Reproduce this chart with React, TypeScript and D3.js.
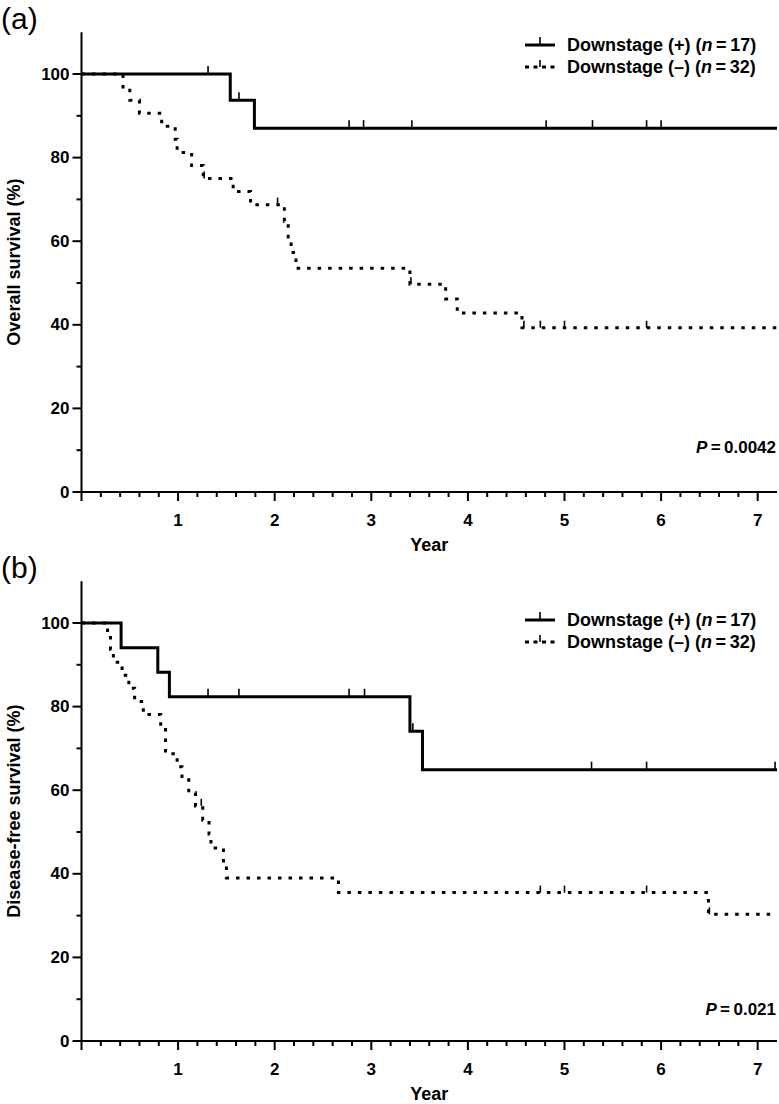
import React from "react";
import * as d3 from "d3";

// ---------- data ----------
const yearTicks = [1, 2, 3, 4, 5, 6, 7];
const survivalTicks = [0, 20, 40, 60, 80, 100];
const survivalMinorTicks = [10, 30, 50, 70, 90];

// (a) Overall survival
const osPlusTimes = [1.54, 1.79];
const osPlusValues = [93.75, 87.05];
const osPlusCensor = [1.31, 1.63, 2.77, 2.92, 3.42, 4.81, 5.29, 5.85, 6.0];

const osMinusTimes = [0.43, 0.5, 0.6, 0.83, 0.97, 0.99, 1.14, 1.26, 1.57, 1.75, 2.1, 2.14, 2.17, 2.22, 3.4, 3.77, 3.89, 4.56];
const osMinusValues = [96.9, 93.75, 90.6, 87.5, 84.4, 81.25, 78.1, 75.0, 71.9, 68.75, 64.8, 61.0, 57.3, 53.5, 49.7, 46.2, 42.8, 39.3];
const osMinusCensor = [1.27, 2.03, 3.41, 4.58, 4.75, 5.0, 5.85];

// (b) Disease-free survival
const dfsPlusTimes = [0.41, 0.79, 0.91, 3.4, 3.53];
const dfsPlusValues = [94.1, 88.2, 82.35, 74.1, 64.9];
const dfsPlusCensor = [1.31, 1.63, 2.77, 2.93, 3.43, 5.28, 5.85, 7.18];

const dfsMinusTimes = [0.27, 0.3, 0.33, 0.42, 0.49, 0.55, 0.64, 0.82, 0.87, 0.99, 1.04, 1.11, 1.18, 1.255, 1.32, 1.34, 1.47, 1.5, 2.66, 6.49];
const dfsMinusValues = [96.9, 93.75, 90.6, 87.5, 84.4, 81.25, 78.1, 75.0, 68.75, 65.6, 62.5, 59.4, 56.25, 52.9, 49.5, 46.2, 42.6, 39.0, 35.5, 30.3];
const dfsMinusCensor = [1.24, 4.75, 5.0, 5.85, 6.5];

const legendPlus = "Downstage (+)";
const legendMinus = "Downstage (–)";
const nPlus = "17";
const nMinus = "32";

const FONT = "'Liberation Sans', Arial, Helvetica, sans-serif";
const X_MAX = 7.2;
const Y_MAX = 110;

type Series = { times: number[]; values: number[]; censor: number[] };

function stepPoints(s: Series): [number, number][] {
  const pts: [number, number][] = [[0, 100]];
  s.times.forEach((t, i) => pts.push([t, s.values[i]]));
  pts.push([X_MAX, s.values[s.values.length - 1]]);
  return pts;
}

function valueAt(s: Series, t: number): number {
  let v = 100;
  s.times.forEach((tt, i) => {
    if (tt <= t) v = s.values[i];
  });
  return v;
}

type PanelProps = {
  top: number;
  tag: string;
  yLabel: string;
  plus: Series;
  minus: Series;
  pText: string;
  legendY: number;
  pY: number;
};

function Panel({ top, tag, yLabel, plus, minus, pText, legendY, pY }: PanelProps) {
  const x = d3.scaleLinear().domain([0, X_MAX]).range([81.5, 777]);
  const y = d3.scaleLinear().domain([0, Y_MAX]).range([top + 492, top + 492 - 4.18 * Y_MAX]);
  const line = d3
    .line<[number, number]>()
    .x((d) => x(d[0]))
    .y((d) => y(d[1]))
    .curve(d3.curveStepAfter);

  const minorX = d3.range(0, 36).map((i) => i * 0.2).filter((v) => Math.abs(v - Math.round(v)) > 1e-6);
  const y0 = y(0);

  return (
    <g>
      <text x={1} y={top + 29} fontFamily={FONT} fontSize={30}>
        {tag}
      </text>
      {/* y axis */}
      <line x1={x(0)} x2={x(0)} y1={y(Y_MAX)} y2={y0 + 9} stroke="#000" strokeWidth={2} />
      {survivalTicks.map((v) => (
        <g key={"yt" + v}>
          <line x1={x(0) - 9} x2={x(0)} y1={y(v)} y2={y(v)} stroke="#000" strokeWidth={2} />
          <text
            x={x(0) - 12}
            y={y(v)}
            textAnchor="end"
            dominantBaseline="central"
            fontFamily={FONT}
            fontWeight="bold"
            fontSize={17}
          >
            {v}
          </text>
        </g>
      ))}
      {survivalMinorTicks.map((v) => (
        <line key={"ym" + v} x1={x(0) - 5} x2={x(0)} y1={y(v)} y2={y(v)} stroke="#000" strokeWidth={2} />
      ))}
      <text
        transform={`translate(14,${(y(Y_MAX) + y0) / 2}) rotate(-90)`}
        textAnchor="middle"
        dominantBaseline="central"
        fontFamily={FONT}
        fontWeight="bold"
        fontSize={18}
      >
        {yLabel}
      </text>
      {/* x axis */}
      <line x1={x(0)} x2={x(X_MAX)} y1={y0} y2={y0} stroke="#000" strokeWidth={2} />
      {yearTicks.map((v) => (
        <g key={"xt" + v}>
          <line x1={x(v)} x2={x(v)} y1={y0} y2={y0 + 9} stroke="#000" strokeWidth={2} />
          <text
            x={x(v)}
            y={y0 + 28}
            textAnchor="middle"
            dominantBaseline="central"
            fontFamily={FONT}
            fontWeight="bold"
            fontSize={17}
          >
            {v}
          </text>
        </g>
      ))}
      {minorX.map((v) => (
        <line key={"xm" + v} x1={x(v)} x2={x(v)} y1={y0} y2={y0 + 5} stroke="#000" strokeWidth={2} />
      ))}
      <text
        x={(x(0) + x(X_MAX)) / 2}
        y={y0 + 53}
        textAnchor="middle"
        dominantBaseline="central"
        fontFamily={FONT}
        fontWeight="bold"
        fontSize={18}
      >
        Year
      </text>
      {/* curves */}
      <path d={line(stepPoints(minus)) || ""} fill="none" stroke="#000" strokeWidth={3} strokeDasharray="3.5 7" />
      <path d={line(stepPoints(plus)) || ""} fill="none" stroke="#000" strokeWidth={3} />
      {plus.censor.map((t, i) => (
        <line key={"cp" + i} x1={x(t)} x2={x(t)} y1={y(valueAt(plus, t))} y2={y(valueAt(plus, t)) - 8} stroke="#000" strokeWidth={1.6} />
      ))}
      {minus.censor.map((t, i) => (
        <line key={"cm" + i} x1={x(t)} x2={x(t)} y1={y(valueAt(minus, t))} y2={y(valueAt(minus, t)) - 7} stroke="#000" strokeWidth={1.6} />
      ))}
      {/* legend */}
      <g>
        <line x1={525} x2={555} y1={legendY} y2={legendY} stroke="#000" strokeWidth={3} />
        <line x1={540} x2={540} y1={legendY} y2={legendY - 8} stroke="#000" strokeWidth={1.6} />
        <text x={567} y={legendY} dominantBaseline="central" fontFamily={FONT} fontWeight="bold" fontSize={18}>
          {legendPlus} (<tspan fontStyle="italic">n</tspan>
          {"\u2009=\u2009" + nPlus})
        </text>
        <line x1={525} x2={556} y1={legendY + 22} y2={legendY + 22} stroke="#000" strokeWidth={3} strokeDasharray="4 4.5" />
        <line x1={540} x2={540} y1={legendY + 22} y2={legendY + 15} stroke="#000" strokeWidth={1.6} />
        <text x={567} y={legendY + 22} dominantBaseline="central" fontFamily={FONT} fontWeight="bold" fontSize={18}>
          {legendMinus} (<tspan fontStyle="italic">n</tspan>
          {"\u2009=\u2009" + nMinus})
        </text>
      </g>
      <text x={776} y={pY} textAnchor="end" dominantBaseline="central" fontFamily={FONT} fontWeight="bold" fontSize={17}>
        <tspan fontStyle="italic">P</tspan>
        {pText}
      </text>
    </g>
  );
}

export default function App() {
  return (
    <svg width={779} height={1104} style={{ position: "absolute", left: 0, top: 0, background: "#fff" }}>
      <rect width={779} height={1104} fill="#fff" />
      <Panel
        top={0}
        tag="(a)"
        yLabel="Overall survival (%)"
        plus={{ times: osPlusTimes, values: osPlusValues, censor: osPlusCensor }}
        minus={{ times: osMinusTimes, values: osMinusValues, censor: osMinusCensor }}
        pText={"\u2009=\u20090.0042"}
        legendY={45}
        pY={447}
      />
      <Panel
        top={549}
        tag="(b)"
        yLabel="Disease-free survival (%)"
        plus={{ times: dfsPlusTimes, values: dfsPlusValues, censor: dfsPlusCensor }}
        minus={{ times: dfsMinusTimes, values: dfsMinusValues, censor: dfsMinusCensor }}
        pText={"\u2009=\u20090.021"}
        legendY={620}
        pY={1009}
      />
    </svg>
  );
}
